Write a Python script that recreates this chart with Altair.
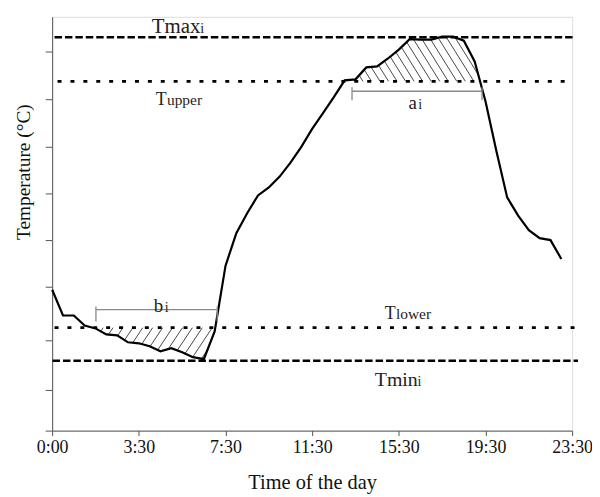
import json
import altair as alt
import numpy as np
import pandas as pd

# ---------------- data ----------------
time_h = [0.0, 0.5, 1.0, 1.5, 2.0, 2.5, 3.0, 3.5, 4.0, 4.5, 5.0, 5.5,
          6.0, 6.5, 7.0, 7.5, 8.0, 8.5, 9.0, 9.5, 10.0, 10.5, 11.0, 11.5,
          12.0, 12.5, 13.0, 13.5, 14.0, 14.5, 15.0, 15.5, 16.0, 16.5, 17.0, 17.5,
          18.0, 18.5, 19.0, 19.5, 20.0, 20.5, 21.0, 21.5, 22.0, 22.5, 23.0, 23.5]
temp = [142, 116, 116, 106, 103, 97, 96, 89, 88, 85, 80, 83,
        79, 74, 72, 100, 166, 199, 219, 237, 245, 256, 270, 286,
        304, 320, 336, 353, 354, 366, 367, 375, 384, 394.5, 394, 394,
        397, 397, 393, 372, 332, 282, 235, 217, 202, 194, 192, 173]

T_MAX = 396.3
T_UPPER = 352.0
T_LOWER = 103.7
T_MIN = 70.3

tick_hours = [0, 4, 8, 12, 16, 20, 24]
tick_labels = ["0:00", "3:30", "7:30", "11:30", "15:30", "19:30", "23:30"]
y_ticks = [0, 41, 91, 145, 192, 239, 286, 334, 382]

ref_names = ["Tmax", "Tupper", "Tlower", "Tmin"]
ref_values = [T_MAX, T_UPPER, T_LOWER, T_MIN]
ref_start = [0.11, 0.25, 0.11, 0.02]
ref_end = [24.05, 23.8, 24.23, 24.27]
ref_style = ["dash", "dot", "dot", "dash"]

# brackets (a_i above, b_i below)
br_name = ["a", "b"]
br_x1 = [13.84, 2.02]
br_x2 = [19.84, 7.62]
br_y = [342, 122]
br_cap_top = [346, 125]
br_cap_bot = [333, 110]

# annotation texts
ann_text = ["Tmax", "i", "T", "upper", "T", "lower", "Tmin", "i", "a", "i", "b", "i"]
ann_x = [4.60, 6.84, 4.78, 5.30, 15.35, 15.87, 14.89, 16.86, 16.45, 16.90, 4.69, 5.20]
ann_y = [401, 401, 328, 328, 112, 112, 45, 45, 324, 324, 120, 120]
ann_size = [21, 14, 18, 15.5, 18, 15.5, 20, 14, 19, 14, 19, 14]

FONT = "Liberation Serif"
W, H = 524, 417
XDOM = [0, 24]
YDOM = [0, 417]
PXH = W / (XDOM[1] - XDOM[0])

# ---------------- hatch geometry (derived from the data) ----------------
def run_polygon(xv, yv, ref, above):
    idx = [i for i in range(len(yv)) if (yv[i] > ref if above else yv[i] < ref)]
    i0, i1 = idx[0], idx[-1]

    def cross(a, b):
        t = (ref - yv[a]) / (yv[b] - yv[a])
        return xv[a] + t * (xv[b] - xv[a])

    pts = [(cross(i0 - 1, i0), ref)]
    pts += [(xv[i], yv[i]) for i in range(i0, i1 + 1)]
    pts += [(cross(i1, i1 + 1), ref)]
    return pts


def hatch(pts, m, spacing_px, phase=0.0):
    P = np.array([(px * PXH, py) for px, py in pts])
    n = len(P)
    cv = P[:, 1] - m * P[:, 0]
    step = abs(m) * spacing_px
    cs = np.arange(cv.min() + phase, cv.max(), step)
    segs = []
    for c in cs:
        hits = []
        for k in range(n):
            a, b = P[k], P[(k + 1) % n]
            da = a[1] - m * a[0] - c
            db = b[1] - m * b[0] - c
            if (da > 0) != (db > 0):
                t = da / (da - db)
                hits.append(a + t * (b - a))
        hits.sort(key=lambda p: p[0])
        for j in range(0, len(hits) - 1, 2):
            p, q = hits[j], hits[j + 1]
            segs.append({"x": p[0] / PXH, "y": p[1], "x2": q[0] / PXH, "y2": q[1]})
    return segs


upper_poly = run_polygon(time_h, temp, T_UPPER, True)
lower_poly = run_polygon(time_h, temp, T_LOWER, False)
hatch_df = pd.DataFrame(hatch(upper_poly, -1.6, 8.6, 3.0) + hatch(lower_poly, 1.5, 10.0, 4.0))

line_df = pd.DataFrame({"time": time_h, "temp": temp})
ref_df = pd.DataFrame({"name": ref_names, "y": ref_values, "x": ref_start,
                       "x2": ref_end, "style": ref_style})
br_h = pd.DataFrame({"x": br_x1, "x2": br_x2, "y": br_y, "y2": br_y})
br_v = pd.DataFrame({"x": br_x1 + br_x2, "x2": br_x1 + br_x2,
                     "y": br_cap_top + br_cap_top, "y2": br_cap_bot + br_cap_bot})
br_df = pd.concat([br_h, br_v], ignore_index=True)
ann_df = pd.DataFrame({"text": ann_text, "x": ann_x, "y": ann_y, "size": ann_size})

label_expr = f"{json.dumps(tick_labels)}[indexof({json.dumps(tick_hours)}, datum.value)]"

x_axis = alt.Axis(values=tick_hours, labelExpr=label_expr, title="Time of the day",
                  grid=False, tickSize=5, labelPadding=3, titlePadding=16,
                  domainColor="#555", tickColor="#555", labelColor="#111",
                  labelFont=FONT, labelFontSize=18, titleFont=FONT, titleFontSize=20.5,
                  titleFontWeight="normal", titleColor="#111", labelFlush=False)
y_axis = alt.Axis(values=y_ticks, labels=False, title="Temperature (°C)", grid=False,
                  tickSize=7, titlePadding=11, titleY=156, domainColor="#555", tickColor="#555",
                  titleFont=FONT, titleFontSize=19.5, titleFontWeight="normal",
                  titleColor="#111")


def X(field):
    return alt.X(field, type="quantitative", scale=alt.Scale(domain=XDOM, nice=False, zero=False), axis=x_axis)


def Y(field):
    return alt.Y(field, type="quantitative", scale=alt.Scale(domain=YDOM, nice=False, zero=False), axis=y_axis)


hatch_layer = alt.Chart(hatch_df).mark_rule(color="#333", strokeWidth=0.9).encode(
    x=X("x"), x2="x2", y=Y("y"), y2="y2")

dash_layer = alt.Chart(ref_df[ref_df["style"] == "dash"]).mark_rule(
    color="black", strokeWidth=2.5, strokeDash=[7.5, 3]).encode(x=X("x"), x2="x2", y=Y("y"))
dot_layer = alt.Chart(ref_df[ref_df["style"] == "dot"]).mark_rule(
    color="black", strokeWidth=2.8, strokeDash=[4, 9]).encode(x=X("x"), x2="x2", y=Y("y"))

line_layer = alt.Chart(line_df).mark_line(color="black", strokeWidth=2.2).encode(
    x=X("time"), y=Y("temp"))

br_layer = alt.Chart(br_df).mark_rule(color="#8a8a8a", strokeWidth=1.3).encode(
    x=X("x"), x2="x2", y=Y("y"), y2="y2")

text_layer = alt.Chart(ann_df).mark_text(font=FONT, align="left", baseline="alphabetic",
                                         color="#222").encode(
    x=X("x"), y=Y("y"), text="text:N", size=alt.Size("size:Q", scale=None, legend=None))

chart = alt.layer(hatch_layer, dash_layer, dot_layer, line_layer, br_layer, text_layer).properties(
    width=W, height=H,
    padding={"left": 44.5, "top": 7, "right": 20, "bottom": 64},
    autosize=alt.AutoSizeParams(type="none"),
).configure_view(stroke=None).configure(background="white")

chart.save("out.html", embed_options={"renderer": "svg", "actions": False})
